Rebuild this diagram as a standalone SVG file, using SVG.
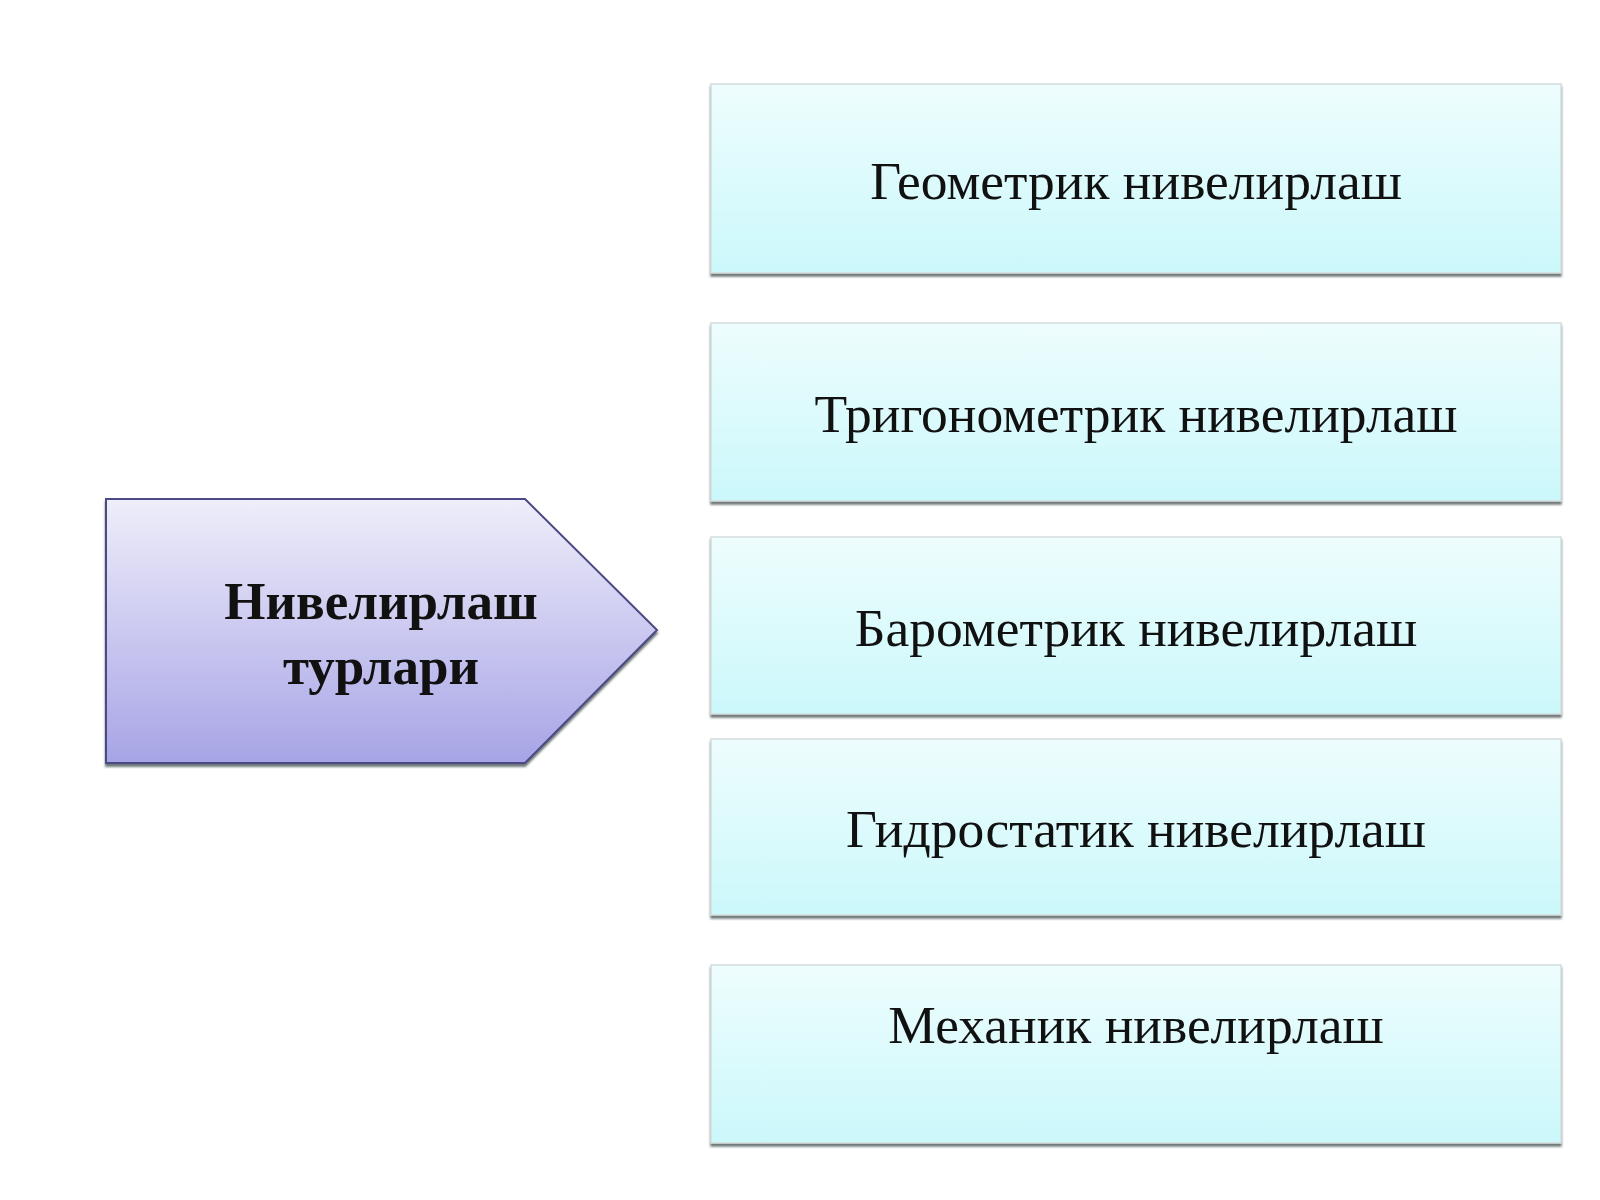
<svg xmlns="http://www.w3.org/2000/svg" width="1600" height="1200" viewBox="0 0 1600 1200">
<defs>
  <linearGradient id="gBox" x1="0" y1="0" x2="0" y2="1">
    <stop offset="0" stop-color="#eefdfd"/>
    <stop offset="1" stop-color="#cbf8fb"/>
  </linearGradient>
  <linearGradient id="gArrow" x1="0" y1="0" x2="0" y2="1">
    <stop offset="0" stop-color="#efeefa"/>
    <stop offset="1" stop-color="#a7a4e6"/>
  </linearGradient>
  <filter id="sh" x="-5%" y="-5%" width="110%" height="115%">
    <feDropShadow dx="0" dy="3" stdDeviation="1.2" flood-color="#5f6b6b" flood-opacity="0.9"/>
  </filter>
</defs>
<style>
  .box { fill: url(#gBox); stroke: #d4dcdc; stroke-width: 1.5; filter: url(#sh); }
  .lbl { font-family: "Liberation Serif", "Times New Roman", serif; font-size: 53.5px; fill: #111111; text-anchor: middle; }
  .title { font-family: "Liberation Serif", "Times New Roman", serif; font-size: 53px; font-weight: bold; fill: #111111; text-anchor: middle; }
</style>
<rect width="1600" height="1200" fill="#ffffff"/>

<g id="main">
  <polygon points="106,499 525,499 657,630 525,763 106,763" fill="url(#gArrow)" stroke="#4c4a86" stroke-width="2" filter="url(#sh)"/>
  <text class="title" x="381" y="619">Нивелирлаш</text>
  <text class="title" x="381" y="684">турлари</text>
</g>

<g id="connectors"></g>

<g id="n1">
  <rect class="box" x="711" y="84" width="850" height="189"/>
  <text class="lbl" x="1136" y="199">Геометрик нивелирлаш</text>
</g>
<g id="n2">
  <rect class="box" x="711" y="323" width="850" height="178"/>
  <text class="lbl" x="1136" y="432">Тригонометрик нивелирлаш</text>
</g>
<g id="n3">
  <rect class="box" x="711" y="537" width="850" height="177"/>
  <text class="lbl" x="1136" y="646">Барометрик нивелирлаш</text>
</g>
<g id="n4">
  <rect class="box" x="711" y="739" width="850" height="176"/>
  <text class="lbl" x="1136" y="847">Гидростатик нивелирлаш</text>
</g>
<g id="n5">
  <rect class="box" x="711" y="965" width="850" height="178"/>
  <text class="lbl" x="1136" y="1043">Механик нивелирлаш</text>
</g>
</svg>
